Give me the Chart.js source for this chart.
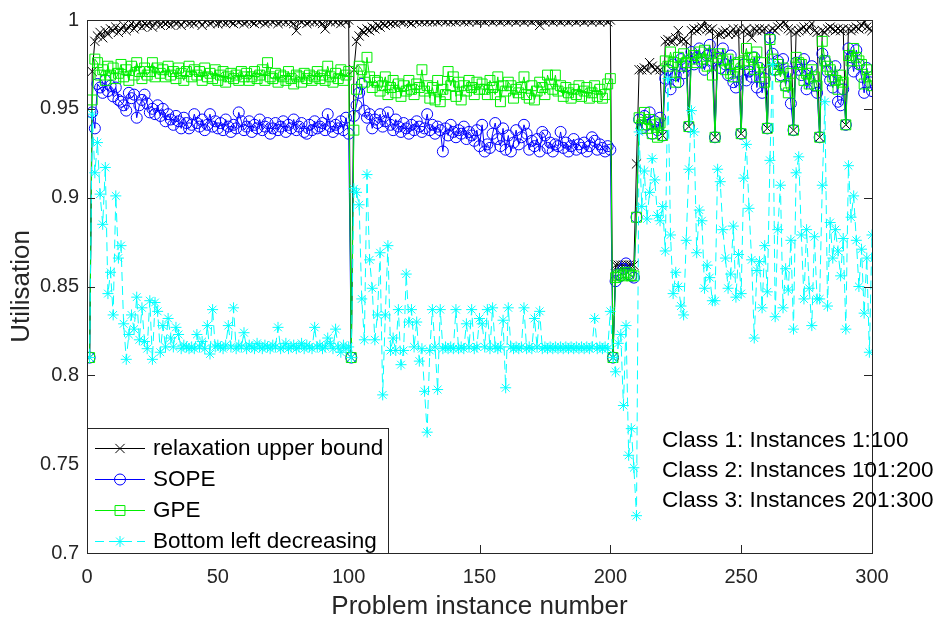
<!DOCTYPE html>
<html>
<head>
<meta charset="utf-8">
<title>Utilisation per problem instance</title>
<script src="https://cdn.jsdelivr.net/npm/chart.js@4.4.1/dist/chart.umd.min.js"></script>
<style>
  html, body { margin: 0; padding: 0; background: #fff; }
  #wrap { width: 937px; height: 624px; }
</style>
</head>
<body>
<div id="wrap"><canvas id="utilChart" width="937" height="624"></canvas></div>
<script>
// instance numbers 1..300 (class 1: 1-100, class 2: 101-200, class 3: 201-300)
const instances = Array.from({ length: 300 }, (_, k) => k + 1);

const xTicks = [0, 50, 100, 150, 200, 250, 300];
const yTicks = [0.7, 0.75, 0.8, 0.85, 0.9, 0.95, 1];

const relaxBound = [
  0.810, 0.971, 0.988, 0.991, 0.993, 0.990, 0.994, 0.992, 0.995, 0.994,
  0.996, 0.993, 0.995, 0.997, 0.994, 0.996, 0.998, 0.995, 0.997, 0.999,
  0.996, 0.998, 0.997, 0.999, 0.996, 0.998, 1.000, 0.997, 0.999, 0.998,
  0.999, 0.997, 1.000, 0.998, 0.999, 0.997, 0.999, 1.000, 0.998, 0.999,
  0.998, 1.000, 0.999, 0.997, 0.999, 1.000, 0.998, 0.999, 1.000, 0.998,
  0.999, 1.000, 0.998, 1.000, 0.999, 0.998, 1.000, 0.999, 1.000, 0.998,
  0.999, 1.000, 0.999, 0.998, 1.000, 0.999, 1.000, 0.998, 0.999, 1.000,
  0.999, 1.000, 0.998, 0.999, 1.000, 0.999, 1.000, 0.999, 0.998, 0.994,
  1.000, 0.999, 1.000, 0.998, 0.999, 1.000, 0.999, 1.000, 0.999, 0.998,
  0.995, 1.000, 0.999, 1.000, 0.999, 1.000, 0.998, 1.000, 0.999, 1.000,
  0.810, 0.972, 0.988, 0.991, 0.994, 0.993, 0.995, 0.994, 0.996, 0.995,
  0.997, 0.996, 0.998, 0.997, 0.999, 0.998, 0.999, 0.998, 1.000, 0.999,
  0.999, 1.000, 0.999, 0.998, 1.000, 0.999, 1.000, 0.999, 1.000, 0.999,
  1.000, 0.999, 1.000, 0.999, 1.000, 1.000, 0.999, 1.000, 0.999, 1.000,
  0.999, 1.000, 1.000, 0.999, 1.000, 0.999, 1.000, 1.000, 0.999, 1.000,
  1.000, 0.999, 1.000, 1.000, 0.999, 1.000, 1.000, 0.999, 1.000, 1.000,
  0.999, 1.000, 1.000, 0.999, 1.000, 1.000, 0.999, 1.000, 1.000, 0.999,
  1.000, 1.000, 0.997, 1.000, 0.999, 1.000, 1.000, 0.999, 1.000, 1.000,
  0.999, 1.000, 1.000, 0.999, 1.000, 1.000, 0.999, 1.000, 1.000, 0.999,
  1.000, 1.000, 0.999, 1.000, 1.000, 0.999, 1.000, 1.000, 0.999, 1.000,
  0.810, 0.862, 0.862, 0.862, 0.862, 0.862, 0.862, 0.862, 0.862, 0.919,
  0.972, 0.972, 0.973, 0.972, 0.976, 0.974, 0.972, 0.973, 0.972, 0.935,
  0.988, 0.989, 0.988, 0.988, 0.990, 0.994, 0.988, 0.989, 0.988, 0.940,
  0.994, 0.995, 0.994, 0.995, 0.996, 0.999, 0.995, 0.994, 0.995, 0.934,
  0.992, 0.992, 0.993, 0.994, 0.992, 0.993, 0.995, 0.992, 0.995, 0.936,
  0.994, 0.995, 0.993, 0.990, 0.995, 0.994, 0.995, 0.994, 0.995, 0.939,
  0.994, 0.995, 0.994, 0.996, 0.997, 0.999, 0.998, 0.995, 0.994, 0.938,
  0.993, 0.994, 0.995, 0.996, 0.994, 0.996, 0.998, 0.994, 0.993, 0.934,
  0.994, 0.993, 0.995, 0.996, 0.995, 0.994, 0.995, 0.994, 0.995, 0.941,
  0.995, 0.994, 0.995, 0.996, 0.995, 0.997, 0.999, 0.996, 0.995, 0.994
];

const sope = [
  0.810, 0.948, 0.939, 0.964, 0.962, 0.959, 0.966, 0.960, 0.963, 0.957,
  0.962, 0.955, 0.954, 0.952, 0.949, 0.959, 0.956, 0.958, 0.945, 0.952,
  0.955, 0.958, 0.953, 0.948, 0.950, 0.947, 0.952, 0.946, 0.950, 0.943,
  0.947, 0.944, 0.941, 0.946, 0.943, 0.939, 0.945, 0.942, 0.939, 0.941,
  0.947, 0.942, 0.940, 0.944, 0.938, 0.941, 0.947, 0.940, 0.943, 0.939,
  0.942, 0.938, 0.944, 0.940, 0.937, 0.941, 0.939, 0.948, 0.943, 0.938,
  0.940, 0.943, 0.937, 0.941, 0.939, 0.944, 0.938, 0.940, 0.942, 0.936,
  0.939, 0.942, 0.938, 0.940, 0.943, 0.937, 0.941, 0.939, 0.944, 0.938,
  0.940, 0.942, 0.937, 0.936, 0.941, 0.938, 0.943, 0.939, 0.940, 0.942,
  0.938, 0.947, 0.940, 0.937, 0.941, 0.939, 0.943, 0.938, 0.945, 0.936,
  0.810, 0.946, 0.952, 0.959, 0.964, 0.949, 0.945, 0.947, 0.939, 0.944,
  0.942, 0.947, 0.940, 0.943, 0.948, 0.941, 0.938, 0.944, 0.940, 0.937,
  0.942, 0.939, 0.936, 0.941, 0.938, 0.943, 0.940, 0.937, 0.939, 0.947,
  0.938, 0.941, 0.936, 0.940, 0.938, 0.926, 0.939, 0.935, 0.941, 0.937,
  0.934, 0.938, 0.936, 0.940, 0.933, 0.937, 0.935, 0.932, 0.938, 0.929,
  0.941, 0.926, 0.930, 0.928, 0.936, 0.942, 0.933, 0.929, 0.939, 0.927,
  0.935, 0.926, 0.931, 0.938, 0.930, 0.934, 0.941, 0.936, 0.927, 0.932,
  0.929, 0.933, 0.926, 0.937, 0.935, 0.928, 0.931, 0.926, 0.930, 0.929,
  0.937, 0.928, 0.931, 0.926, 0.929, 0.933, 0.927, 0.930, 0.928, 0.931,
  0.926, 0.929, 0.934, 0.932, 0.927, 0.930, 0.928, 0.926, 0.929, 0.927,
  0.810, 0.853, 0.857, 0.856, 0.860, 0.863, 0.857, 0.856, 0.855, 0.889,
  0.944, 0.939, 0.946, 0.941, 0.948, 0.936, 0.943, 0.938, 0.945, 0.935,
  0.967, 0.972, 0.961, 0.975, 0.969, 0.965, 0.978, 0.970, 0.974, 0.940,
  0.982, 0.975, 0.979, 0.984, 0.976, 0.972, 0.980, 0.986, 0.977, 0.934,
  0.978, 0.973, 0.984, 0.975, 0.969, 0.980, 0.965, 0.962, 0.971, 0.936,
  0.975, 0.966, 0.971, 0.968, 0.979, 0.962, 0.973, 0.959, 0.967, 0.939,
  0.990, 0.981, 0.972, 0.977, 0.969, 0.978, 0.963, 0.971, 0.953, 0.938,
  0.976, 0.972, 0.969, 0.978, 0.961, 0.967, 0.974, 0.963, 0.959, 0.934,
  0.981, 0.977, 0.971, 0.966, 0.962, 0.974, 0.954, 0.952, 0.961, 0.941,
  0.984, 0.979, 0.971, 0.983, 0.975, 0.968, 0.959, 0.973, 0.965, 0.960
];

const gpe = [
  0.810, 0.955, 0.978, 0.976, 0.969, 0.972, 0.966, 0.974, 0.969, 0.973,
  0.967, 0.970, 0.975, 0.968, 0.972, 0.966, 0.974, 0.969, 0.976, 0.971,
  0.967, 0.973, 0.969, 0.971, 0.976, 0.968, 0.973, 0.970, 0.972, 0.968,
  0.974, 0.969, 0.971, 0.967, 0.973, 0.970, 0.966, 0.971, 0.974, 0.968,
  0.972, 0.969, 0.971, 0.966, 0.973, 0.968, 0.970, 0.967, 0.972, 0.966,
  0.969, 0.971, 0.965, 0.968, 0.970, 0.967, 0.969, 0.966, 0.971, 0.968,
  0.970, 0.966, 0.968, 0.971, 0.967, 0.969, 0.972, 0.966, 0.976, 0.968,
  0.967, 0.970, 0.965, 0.969, 0.968, 0.966, 0.971, 0.967, 0.964, 0.969,
  0.968, 0.965, 0.970, 0.967, 0.969, 0.966, 0.968, 0.971, 0.967, 0.969,
  0.966, 0.974, 0.968, 0.965, 0.970, 0.967, 0.972, 0.966, 0.969, 0.971,
  0.810, 0.938, 0.961, 0.974, 0.972, 0.965, 0.979, 0.968, 0.962, 0.966,
  0.965, 0.960, 0.963, 0.968, 0.958, 0.962, 0.966, 0.959, 0.964, 0.957,
  0.963, 0.960, 0.966, 0.961, 0.958, 0.964, 0.962, 0.972, 0.960, 0.963,
  0.956, 0.962, 0.955, 0.966, 0.954, 0.961, 0.958, 0.971, 0.963, 0.968,
  0.957, 0.965, 0.955, 0.963, 0.960, 0.966, 0.962, 0.958, 0.965, 0.961,
  0.964, 0.961, 0.958, 0.966, 0.962, 0.958, 0.968, 0.954, 0.963, 0.960,
  0.965, 0.963, 0.956, 0.961, 0.959, 0.962, 0.968, 0.958, 0.956, 0.963,
  0.955, 0.960, 0.965, 0.962, 0.958, 0.969, 0.964, 0.961, 0.969, 0.960,
  0.963, 0.957, 0.962, 0.959, 0.956, 0.961, 0.958, 0.963, 0.957, 0.960,
  0.962, 0.956, 0.959, 0.963, 0.957, 0.961, 0.956, 0.958, 0.964, 0.967,
  0.810, 0.855, 0.856, 0.857, 0.856, 0.858, 0.857, 0.856, 0.856, 0.889,
  0.945, 0.941, 0.948, 0.939, 0.944, 0.936, 0.941, 0.934, 0.942, 0.935,
  0.977, 0.974, 0.982, 0.976, 0.965, 0.979, 0.974, 0.981, 0.976, 0.940,
  0.978, 0.980, 0.976, 0.982, 0.978, 0.983, 0.974, 0.981, 0.969, 0.934,
  0.979, 0.981, 0.977, 0.972, 0.978, 0.970, 0.968, 0.975, 0.976, 0.936,
  0.977, 0.984, 0.975, 0.979, 0.972, 0.982, 0.968, 0.976, 0.965, 0.939,
  0.989, 0.978, 0.972, 0.975, 0.968, 0.973, 0.963, 0.959, 0.970, 0.938,
  0.979, 0.976, 0.975, 0.966, 0.970, 0.964, 0.972, 0.968, 0.963, 0.934,
  0.988, 0.977, 0.974, 0.972, 0.968, 0.966, 0.961, 0.969, 0.965, 0.941,
  0.980, 0.977, 0.984, 0.979, 0.977, 0.975, 0.964, 0.972, 0.968, 0.963
];

const bottomLeft = [
  0.810, 0.947, 0.914, 0.931, 0.902, 0.885, 0.917, 0.846, 0.858, 0.834,
  0.901, 0.866, 0.873, 0.829, 0.809, 0.823, 0.834, 0.826, 0.844, 0.820,
  0.838, 0.819, 0.815, 0.842, 0.809, 0.841, 0.836, 0.813, 0.828, 0.816,
  0.832, 0.821, 0.816, 0.827, 0.823, 0.815, 0.817, 0.816, 0.815, 0.816,
  0.815, 0.823, 0.816, 0.819, 0.815, 0.828, 0.812, 0.837, 0.816, 0.817,
  0.816, 0.815, 0.817, 0.828, 0.816, 0.838, 0.815, 0.817, 0.816, 0.824,
  0.815, 0.817, 0.816, 0.815, 0.818, 0.816, 0.815, 0.817, 0.816, 0.815,
  0.817, 0.816, 0.827, 0.815, 0.816, 0.818, 0.815, 0.816, 0.817, 0.815,
  0.816, 0.818, 0.815, 0.817, 0.816, 0.815, 0.827, 0.816, 0.817, 0.815,
  0.816, 0.821, 0.818, 0.815, 0.826, 0.816, 0.813, 0.817, 0.815, 0.816,
  0.810, 0.905, 0.903, 0.896, 0.843, 0.820, 0.913, 0.865, 0.849, 0.820,
  0.834, 0.869, 0.789, 0.834, 0.873, 0.814, 0.821, 0.814, 0.837, 0.806,
  0.814, 0.857, 0.830, 0.837, 0.816, 0.830, 0.808, 0.815, 0.791, 0.768,
  0.814, 0.837, 0.816, 0.792, 0.837, 0.815, 0.816, 0.815, 0.816, 0.815,
  0.837, 0.815, 0.816, 0.815, 0.829, 0.816, 0.837, 0.815, 0.816, 0.832,
  0.829, 0.816, 0.837, 0.815, 0.838, 0.816, 0.815, 0.816, 0.831, 0.793,
  0.838, 0.816, 0.815, 0.816, 0.815, 0.816, 0.838, 0.815, 0.816, 0.815,
  0.832, 0.816, 0.836, 0.815, 0.816, 0.815, 0.816, 0.815, 0.816, 0.815,
  0.816, 0.815, 0.816, 0.815, 0.816, 0.815, 0.816, 0.815, 0.816, 0.815,
  0.816, 0.815, 0.816, 0.832, 0.815, 0.816, 0.815, 0.816, 0.815, 0.836,
  0.810, 0.802, 0.818, 0.823, 0.783, 0.828, 0.755, 0.770, 0.748, 0.721,
  0.937, 0.895, 0.915, 0.888, 0.903, 0.922, 0.910, 0.890, 0.887, 0.895,
  0.870, 0.967, 0.879, 0.846, 0.858, 0.850, 0.839, 0.834, 0.876, 0.916,
  0.949, 0.937, 0.869, 0.893, 0.887, 0.849, 0.862, 0.855, 0.842, 0.842,
  0.916, 0.909, 0.882, 0.866, 0.849, 0.857, 0.884, 0.844, 0.868, 0.846,
  0.911, 0.930, 0.894, 0.865, 0.821, 0.859, 0.864, 0.838, 0.873, 0.847,
  0.921, 0.975, 0.833, 0.882, 0.907, 0.838, 0.860, 0.848, 0.876, 0.826,
  0.914, 0.923, 0.879, 0.843, 0.882, 0.849, 0.828, 0.878, 0.843, 0.843,
  0.907, 0.954, 0.839, 0.886, 0.866, 0.882, 0.870, 0.856, 0.877, 0.826,
  0.918, 0.889, 0.901, 0.876, 0.850, 0.871, 0.835, 0.866, 0.813, 0.879
];

const seriesNames = ['relaxation upper bound', 'SOPE', 'GPE', 'Bottom left decreasing'];
const classNotes = ['Class 1: Instances 1:100', 'Class 2: Instances 101:200', 'Class 3: Instances 201:300'];

const axisColor = '#262626';
const fontFamily = '"Liberation Sans", Arial, Helvetica, sans-serif';
Chart.defaults.font.family = fontFamily;
Chart.defaults.color = axisColor;

function toPoints(values) {
    return instances.map((n, k) => ({ x: n, y: values[k] }));
}

// marker / line look of each series
const styles = [
    { color: '#000000', pointStyle: 'crossRot', radius: 6.5, dash: [] },
    { color: '#0000ff', pointStyle: 'circle', radius: 5.5, dash: [] },
    { color: '#00ee00', pointStyle: 'rect', radius: 7, dash: [] },
    { color: '#00ffff', pointStyle: 'star', radius: 5.5, dash: [9, 5] }
];

const allValues = [relaxBound, sope, gpe, bottomLeft];

const datasets = allValues.map((values, i) => ({
    label: seriesNames[i],
    data: toPoints(values),
    borderColor: styles[i].color,
    borderWidth: 1,
    borderDash: styles[i].dash,
    pointStyle: styles[i].pointStyle,
    pointRadius: styles[i].radius,
    pointBorderColor: styles[i].color,
    pointBackgroundColor: 'rgba(0,0,0,0)',
    pointBorderWidth: 1,
    tension: 0,
    order: 4 - i
}));

// box, inward ticks, legend and class notes drawn on top
const framePlugin = {
    id: 'frame',
    afterDraw(chart) {
        const { ctx, chartArea: a, scales } = chart;
        const x = scales.x, y = scales.y;
        ctx.save();
        ctx.strokeStyle = axisColor;
        ctx.lineWidth = 1;
        ctx.setLineDash([]);
        ctx.beginPath();
        xTicks.forEach(v => {
            const px = Math.round(x.getPixelForValue(v)) + 0.5;
            ctx.moveTo(px, a.bottom); ctx.lineTo(px, a.bottom - 8);
            ctx.moveTo(px, a.top); ctx.lineTo(px, a.top + 8);
        });
        yTicks.forEach(v => {
            const py = Math.round(y.getPixelForValue(v)) + 0.5;
            ctx.moveTo(a.left, py); ctx.lineTo(a.left + 8, py);
            ctx.moveTo(a.right, py); ctx.lineTo(a.right - 8, py);
        });
        ctx.stroke();
        ctx.strokeRect(Math.round(a.left) + 0.5, Math.round(a.top) + 0.5,
            Math.round(a.right - a.left), Math.round(a.bottom - a.top));

        // legend box in the lower left corner
        const lx = Math.round(a.left) + 0.5, ly = 428.5, lw = 301, lh = Math.round(a.bottom) - 428;
        ctx.fillStyle = '#ffffff';
        ctx.fillRect(lx, ly, lw, lh);
        ctx.strokeStyle = axisColor;
        ctx.strokeRect(lx, ly, lw, lh);
        ctx.font = '22.5px ' + fontFamily;
        ctx.textBaseline = 'middle';
        ctx.textAlign = 'left';
        seriesNames.forEach((name, i) => {
            const rowY = 448 + i * 31;
            ctx.strokeStyle = styles[i].color;
            ctx.lineWidth = 1;
            ctx.setLineDash(styles[i].dash);
            ctx.beginPath();
            ctx.moveTo(a.left + 8, rowY + 0.5);
            ctx.lineTo(a.left + 58, rowY + 0.5);
            ctx.stroke();
            ctx.setLineDash([]);
            ctx.fillStyle = 'rgba(0,0,0,0)';
            Chart.helpers.drawPoint(ctx, {
                pointStyle: styles[i].pointStyle,
                radius: styles[i].radius,
                borderWidth: 1,
                rotation: 0
            }, a.left + 33, rowY + 0.5);
            ctx.fillStyle = '#000000';
            ctx.fillText(name, a.left + 66, rowY + 1);
        });

        ctx.fillStyle = '#000000';
        classNotes.forEach((note, i) => {
            ctx.fillText(note, 662, 441 + i * 30);
        });
        ctx.restore();
    }
};

new Chart(document.getElementById('utilChart'), {
    type: 'line',
    data: { datasets: datasets },
    options: {
        responsive: false,
        animation: false,
        devicePixelRatio: 1,
        layout: { padding: { left: 0, right: 65, top: 14, bottom: 0 } },
        plugins: {
            legend: { display: false },
            tooltip: { enabled: false }
        },
        scales: {
            x: {
                type: 'linear',
                min: 0,
                max: 300,
                afterBuildTicks: scale => { scale.ticks = xTicks.map(v => ({ value: v })); },
                afterFit: scale => { scale.height = 71; },
                grid: { display: false, drawTicks: false },
                border: { display: false },
                ticks: { font: { size: 20 }, color: axisColor, padding: 12, maxRotation: 0 },
                title: {
                    display: true,
                    text: 'Problem instance number',
                    font: { size: 26 },
                    color: axisColor,
                    padding: { top: 0, bottom: 2 }
                }
            },
            y: {
                type: 'linear',
                min: 0.7,
                max: 1,
                afterBuildTicks: scale => { scale.ticks = yTicks.map(v => ({ value: v })); },
                afterFit: scale => { scale.width = 87; },
                grid: { display: false, drawTicks: false },
                border: { display: false },
                ticks: {
                    font: { size: 20 },
                    color: axisColor,
                    padding: 8,
                    callback: v => String(+v.toFixed(2))
                },
                title: {
                    display: true,
                    text: 'Utilisation',
                    font: { size: 26 },
                    color: axisColor,
                    padding: { top: 6, bottom: 0 }
                }
            }
        }
    },
    plugins: [framePlugin]
});
</script>
</body>
</html>
